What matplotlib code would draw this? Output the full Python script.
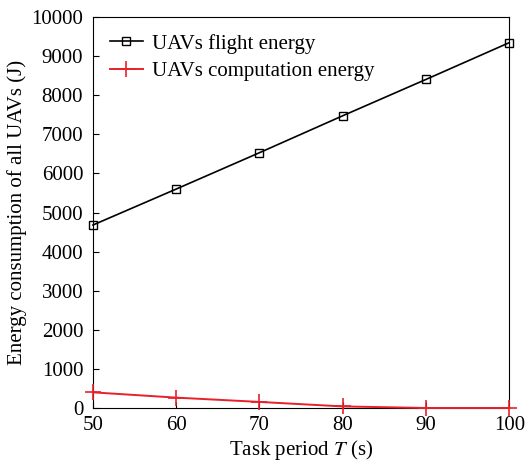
import matplotlib
matplotlib.use("Agg")
import matplotlib.pyplot as plt

periods = [50, 60, 70, 80, 90, 100]
flight_energy = [4680, 5600, 6530, 7475, 8405, 9345]
computation_energy = [400, 265, 155, 40, 0, 0]

plt.rcParams["font.family"] = ["Liberation Serif", "DejaVu Serif"]
plt.rcParams["mathtext.fontset"] = "stix"

fig = plt.figure(figsize=(5.25, 4.61), dpi=100)
ax = fig.add_axes([0.177, 0.115, 0.793, 0.848])

ax.plot(periods, flight_energy, color="black", linewidth=1.2, marker="s",
        markersize=6, markerfacecolor="none", markeredgewidth=1.0,
        label="UAVs flight energy", clip_on=False, zorder=3)
ax.plot(periods, computation_energy, color="#e8202a", linewidth=1.4, marker="+",
        markersize=11, markeredgewidth=1.2,
        label="UAVs computation energy", clip_on=False, zorder=3)

ax.set_xlim(50, 100)
ax.set_ylim(0, 10000)
ax.set_xticks(periods)
ax.set_yticks(range(0, 10001, 1000))
ax.tick_params(direction="in", labelsize=15, length=4, top=False, right=False)
ax.tick_params(axis="y", pad=7)
ax.tick_params(axis="x", pad=6)
ax.set_xlabel("Task period $\\mathit{T}$ (s)", fontsize=15, labelpad=2)
ax.set_ylabel("Energy consumption of all UAVs (J)", fontsize=15, labelpad=3)

ax.legend(loc="upper left", frameon=False, fontsize=15, handlelength=1.6,
          handletextpad=0.45, labelspacing=0.38, borderaxespad=0.4)

fig.savefig("out.png", dpi=100)
